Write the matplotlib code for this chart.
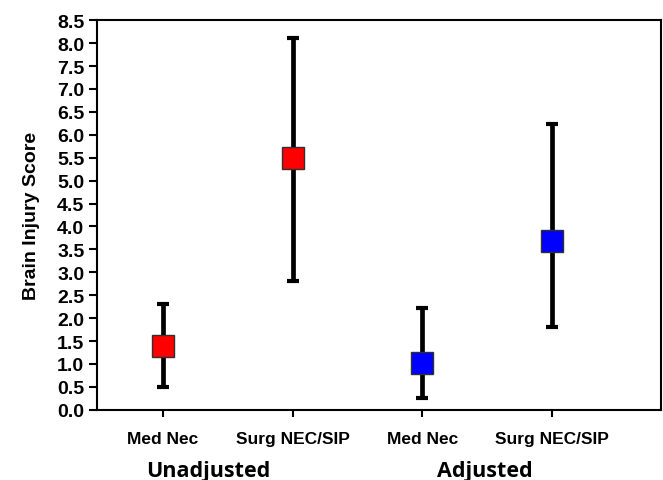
import matplotlib.pyplot as plt

groups = ["Med Nec", "Surg NEC/SIP", "Med Nec", "Surg NEC/SIP"]
scores = [1.39, 5.49, 1.02, 3.69]
lower = [0.50, 2.80, 0.25, 1.80]
upper = [2.30, 8.10, 2.23, 6.23]
colors = ["#ff0000", "#ff0000", "#0000ff", "#0000ff"]
group_titles = ["Unadjusted", "Adjusted"]

fig = plt.figure(figsize=(6.63, 4.81), dpi=100)
ax = fig.add_axes([0.146, 0.146, 0.851, 0.810])

xs = [1, 2, 3, 4]
cap = 0.046  # half width of the caps, in x units
for x, s, lo, hi, c in zip(xs, scores, lower, upper, colors):
    ax.vlines(x, lo, hi, color="black", lw=3.4, zorder=2)
    ax.hlines([lo, hi], x - cap, x + cap, color="black", lw=3, zorder=2)
    ax.plot(x, s, "s", markersize=15.5, markerfacecolor=c,
            markeredgecolor="#303030", markeredgewidth=1, zorder=3)

ax.set_xlim(0.49, 4.84)
ax.set_ylim(0, 8.5)
ax.set_yticks([i * 0.5 for i in range(18)])
ax.set_yticklabels([f"{i * 0.5:.1f}" for i in range(18)],
                   fontsize=14, fontweight="bold", family="Liberation Sans")
ax.set_xticks(xs)
ax.set_xticklabels(groups, fontsize=12.5, fontweight="bold", family="Liberation Sans")
ax.tick_params(axis="y", direction="out", length=6, width=1.5, pad=3)
ax.tick_params(axis="x", direction="out", length=5, width=1.5, pad=10)
for sp in ax.spines.values():
    sp.set_linewidth(1.5)

ax.set_ylabel("Brain Injury Score", fontsize=14, fontweight="bold",
              family="Liberation Sans", labelpad=12)

for x, t in zip([1.35, 3.48], group_titles):
    ax.text(x, -0.155, t, transform=ax.get_xaxis_transform(), ha="center",
            va="center", fontsize=15.5, fontweight="bold", family="Open Sans")

fig.savefig("out.png", dpi=100)
